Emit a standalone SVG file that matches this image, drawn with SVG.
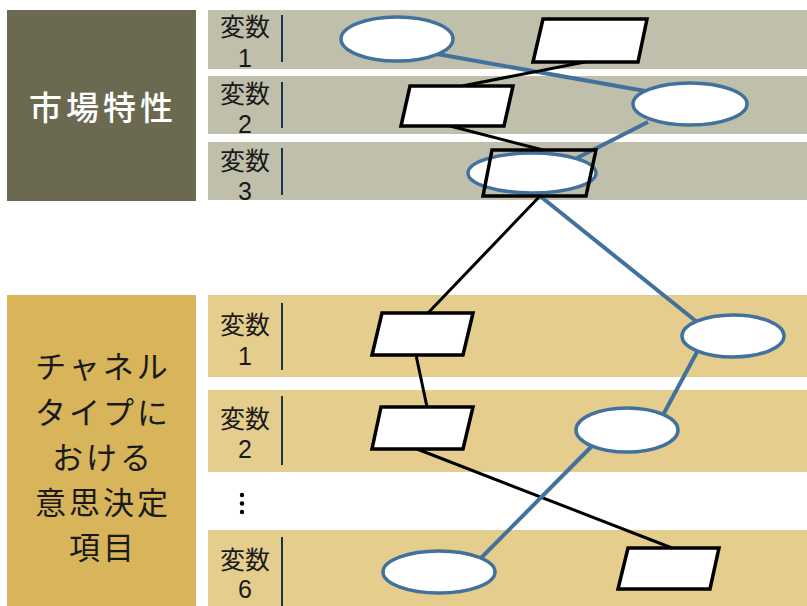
<svg xmlns="http://www.w3.org/2000/svg" width="807" height="606" viewBox="0 0 807 606">
<style>
.lbl{font-family:"Noto Sans CJK JP","Noto Sans",sans-serif;font-size:25px;fill:#1a1a1a;text-anchor:middle}
.num{font-family:"Liberation Sans",Arial,sans-serif;font-size:25px;fill:#1a1a1a;text-anchor:middle}
.big{font-family:"Noto Sans CJK JP","Noto Sans",sans-serif;font-size:31px;text-anchor:middle;letter-spacing:3px}
.vl{stroke:#123845;stroke-width:2}
.ell{fill:#fff;stroke:#41719c;stroke-width:3.5}
.par{fill:#fff;stroke:#000;stroke-width:3.5;stroke-linejoin:miter}
.blue{stroke:#41719c;stroke-width:4;fill:none}
.blk{stroke:#000;stroke-width:3;fill:none}
</style>
<rect width="807" height="606" fill="#fff"/>
<g id="market-header">
<rect x="7" y="10" width="189" height="191" fill="#6b6a51"/>
<text class="big" x="103" y="120" fill="#fff" style="font-size:33px;letter-spacing:4px;font-weight:500">市場特性</text>
</g>
<g id="market-rows">
<rect x="208" y="10" width="599" height="59" fill="#c0bfab"/>
<rect x="208" y="76" width="599" height="58" fill="#c0bfab"/>
<rect x="208" y="142" width="599" height="58" fill="#c0bfab"/>
<text class="lbl" x="245" y="36">変数</text><text class="num" x="245" y="67">1</text>
<line class="vl" x1="282" y1="15" x2="282" y2="62"/>
<text class="lbl" x="245" y="103">変数</text><text class="num" x="245" y="133">2</text>
<line class="vl" x1="282" y1="82" x2="282" y2="128"/>
<text class="lbl" x="245" y="170">変数</text><text class="num" x="245" y="200">3</text>
<line class="vl" x1="282" y1="148" x2="282" y2="195"/>
</g>
<g id="channel-header">
<rect x="7" y="295" width="189" height="311" fill="#d8b55b"/>
<text class="big" x="103" y="378" fill="#1a1a1a">チャネル</text>
<text class="big" x="103" y="424" fill="#1a1a1a">タイプに</text>
<text class="big" x="103" y="469" fill="#1a1a1a">おける</text>
<text class="big" x="103" y="514" fill="#1a1a1a">意思決定</text>
<text class="big" x="103" y="559" fill="#1a1a1a">項目</text>
</g>
<g id="channel-rows">
<rect x="208" y="295" width="599" height="82" fill="#e5cd8d"/>
<rect x="208" y="390" width="599" height="82" fill="#e5cd8d"/>
<rect x="208" y="530" width="599" height="76" fill="#e5cd8d"/>
<text class="lbl" x="245" y="334">変数</text><text class="num" x="245" y="365">1</text>
<line class="vl" x1="282" y1="303" x2="282" y2="370"/>
<text class="lbl" x="245" y="428">変数</text><text class="num" x="245" y="458">2</text>
<line class="vl" x1="282" y1="396" x2="282" y2="465"/>
<circle cx="242" cy="495" r="2.2" fill="#000"/><circle cx="242" cy="503.5" r="2.2" fill="#000"/><circle cx="242" cy="512" r="2.2" fill="#000"/>
<text class="lbl" x="245" y="569">変数</text><text class="num" x="245" y="598">6</text>
<line class="vl" x1="282" y1="537" x2="282" y2="606"/>
</g>
<g id="connectors">
<line class="blue" x1="437" y1="54" x2="645" y2="91"/>
<line class="blue" x1="648" y1="122" x2="577" y2="158"/>
<line class="blk" x1="585" y1="62" x2="462" y2="86"/>
<line class="blk" x1="450" y1="126" x2="543" y2="150"/>
<line class="blk" x1="540" y1="196" x2="428" y2="313"/>
<line class="blue" x1="540" y1="196" x2="697" y2="322"/>
<line class="blk" x1="416" y1="355" x2="427" y2="407"/>
<line class="blue" x1="697" y1="352" x2="663" y2="415"/>
<line class="blk" x1="417" y1="449" x2="672" y2="548"/>
<line class="blue" x1="592" y1="446" x2="480" y2="559"/>
</g>
<g id="m1-ellipse"><ellipse class="ell" cx="397" cy="39" rx="56" ry="22"/></g>
<g id="m1-para"><polygon class="par" points="543,19 647,19 638,62 533,62"/></g>
<g id="m2-ellipse"><ellipse class="ell" cx="690" cy="104" rx="57" ry="21"/></g>
<g id="m2-para"><polygon class="par" points="410,86 513,86 504,126 401,126"/></g>
<g id="m3-ellipse"><ellipse class="ell" cx="532" cy="173" rx="64" ry="20"/></g>
<g id="m3-para"><polygon class="par" style="fill:none" points="492,150 596,150 586,196 483,196"/></g>
<g id="c1-para"><polygon class="par" points="382,313 473,313 463,355 372,355"/></g>
<g id="c1-ellipse"><ellipse class="ell" cx="733" cy="336" rx="51" ry="21"/></g>
<g id="c2-para"><polygon class="par" points="381,407 473,407 463,449 372,449"/></g>
<g id="c2-ellipse"><ellipse class="ell" cx="627" cy="430" rx="51" ry="22"/></g>
<g id="c6-ellipse"><ellipse class="ell" cx="439" cy="572" rx="56" ry="21"/></g>
<g id="c6-para"><polygon class="par" points="628,548 719,548 710,589 618,589"/></g>
</svg>
